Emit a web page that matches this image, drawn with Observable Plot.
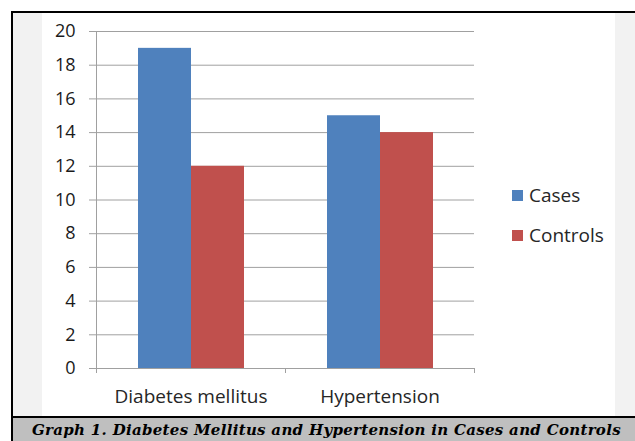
<!DOCTYPE html>
<html><head><meta charset="utf-8">
<script src="https://cdn.jsdelivr.net/npm/d3@7"></script>
<script src="https://cdn.jsdelivr.net/npm/@observablehq/plot@0.6"></script>
<style>
body{margin:0;width:635px;height:441px;overflow:hidden;position:relative;background:#fff;font-family:"Open Sans",sans-serif;}
#frame{position:absolute;left:11px;top:11px;width:624px;height:430px;border-left:2px solid #000;border-top:2px solid #000;background:#f2f2f2;box-sizing:border-box}
#white{position:absolute;left:42px;top:13px;width:573px;height:403px;background:#fff}
#sep{position:absolute;left:11px;top:416px;width:624px;height:2px;background:#000}
#cap{position:absolute;left:13px;top:418px;width:622px;height:23px;background:#bfbfbf;}
#capText{position:absolute;left:32px;top:420px;white-space:nowrap;font:italic bold 15px "DejaVu Serif",serif;letter-spacing:0.3px;color:#000;line-height:20px}
#chart{position:absolute;left:0;top:0}
.leg{position:absolute;left:512px;height:20px;display:flex;align-items:center;font-size:19px;color:#262626;white-space:nowrap}
.leg span.sw{display:inline-block;width:11px;height:11px;margin-right:6px}
</style></head>
<body>
<div id="frame"></div>
<div id="white"></div>
<div id="sep"></div>
<div id="cap"></div>
<div id="capText">Graph 1. Diabetes Mellitus and Hypertension in Cases and Controls</div>
<div id="chart"></div>
<div id="legend"></div>
<script>
const categories = ["Diabetes mellitus", "Hypertension"];
const seriesNames = ["Cases", "Controls"];
const casesValues = [19, 15];
const controlsValues = [12, 14];
const yTicks = [0, 2, 4, 6, 8, 10, 12, 14, 16, 18, 20];
const colors = ["#4f81bd", "#c0504d"];

const data = categories.flatMap((c, i) => [
  {category: c, series: seriesNames[0], value: casesValues[i]},
  {category: c, series: seriesNames[1], value: controlsValues[i]}
]);

const gridColor = "#a0a0a0";
const plot = Plot.plot({
  width: 635, height: 420,
  marginLeft: 95, marginRight: 161, marginTop: 31, marginBottom: 52,
  style: {background: "transparent", fontFamily: "'Open Sans', sans-serif", fontSize: "18px", color: "#262626", overflow: "visible"},
  fx: {domain: categories, padding: 0, label: null},
  x: {domain: seriesNames, paddingInner: 0, paddingOuter: 0.755, axis: null},
  y: {domain: [0, 20], label: null},
  color: {domain: seriesNames, range: colors},
  marks: [
    Plot.ruleY(yTicks, {stroke: gridColor, strokeWidth: 1}),
    Plot.barY(data, {fx: "category", x: "series", y: "value", fill: "series"}),
    Plot.axisY(yTicks, {tickSize: 7, tickPadding: 14, stroke: gridColor, fill: "#1a1a1a", fontSize: 18, label: null}),
    Plot.axisFx({anchor: "bottom", tickSize: 0, tickPadding: 21, fontSize: 19, fill: "#262626", label: null})
  ]
});
document.getElementById("chart").appendChild(plot);

// axis line and category boundary ticks, positioned with the plot's own scales
const fx = plot.scale("fx"), y = plot.scale("y");
const svg = d3.select(plot);
const left = fx.apply(categories[0]);
const bw = fx.bandwidth;
const y0 = y.apply(0), yTop = y.apply(20);
const g = svg.append("g").attr("stroke", gridColor).attr("stroke-width", 1);
g.append("line").attr("x1", left + 0.5).attr("x2", left + 0.5).attr("y1", yTop).attr("y2", y0);
const bounds = categories.map(c => fx.apply(c)).concat([fx.apply(categories[categories.length - 1]) + bw]);
bounds.forEach(b => g.append("line").attr("x1", b + 0.5).attr("x2", b + 0.5).attr("y1", y0).attr("y2", y0 + 5));

// legend
const legend = document.getElementById("legend");
const legendTops = [185, 225];
seriesNames.forEach((s, i) => {
  const d = document.createElement("div");
  d.className = "leg";
  d.style.top = legendTops[i] + "px";
  d.innerHTML = `<span class="sw" style="background:${colors[i]}"></span>${s}`;
  legend.appendChild(d);
});
</script>
</body></html>
